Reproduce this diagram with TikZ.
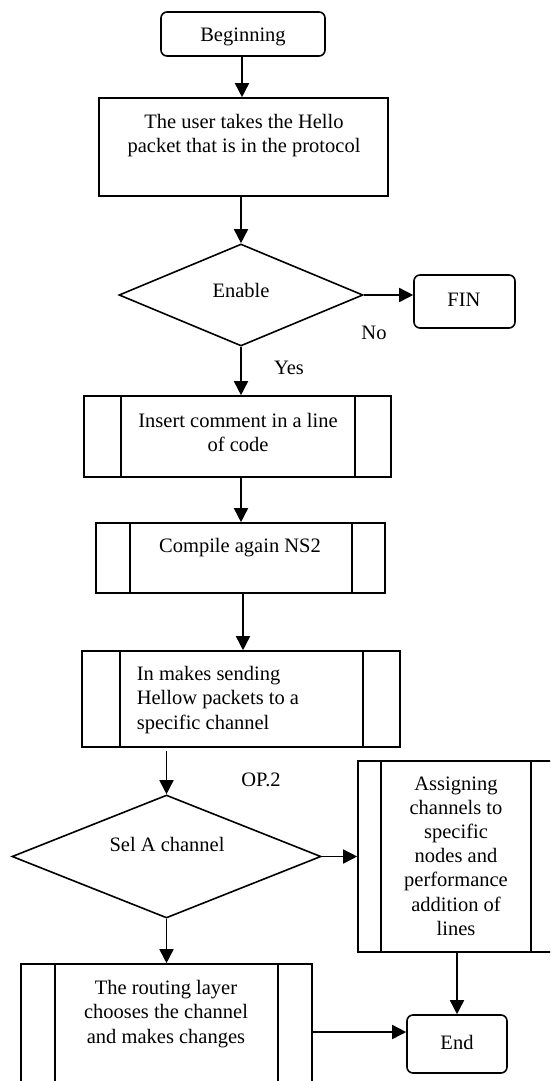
\documentclass[tikz,border=0pt]{standalone}
\usepackage{fontspec}
\setmainfont{Liberation Serif}
\usetikzlibrary{shapes.geometric,arrows.meta}
\begin{document}
\begin{tikzpicture}[x=1pt,y=-1pt,line width=1.6pt,
  every node/.style={font=\fontsize{20.5}{24.2}\selectfont,inner sep=0pt},
  term/.style={draw,rectangle,rounded corners=6pt},
  procbox/.style={draw,rectangle},
  dec/.style={draw,diamond},
  txt/.style={align=center},
  arr/.style={-{Triangle[length=14pt,width=14pt]}}]
\useasboundingbox (0,0) rectangle (550,1081);
\begin{scope}
\clip (0,0) rectangle (550,1081);
% boxes
\node[term,minimum width=164,minimum height=44] (beg) at (243,34) {};
\node[procbox,minimum width=289,minimum height=98] (b2) at (243.5,147) {};
\node[dec,minimum width=244,minimum height=102] (d1) at (241,295) {};
\node[term,minimum width=101,minimum height=53] (fin) at (464.5,301.5) {};
\node[procbox,minimum width=307,minimum height=81] (b3) at (237.5,436.5) {};
\node[procbox,minimum width=289,minimum height=70] (b4) at (240.5,558) {};
\node[procbox,minimum width=318,minimum height=96] (b5) at (241,699) {};
\node[dec,minimum width=309,minimum height=123] (d2) at (166.5,856.5) {};
\node[procbox,minimum width=196,minimum height=191] (b6) at (456,856.5) {};
\node[term,minimum width=100,minimum height=58] (fine) at (457,1044) {};
\node[procbox,minimum width=291,minimum height=136] (b7) at (166.5,1032) {};
% inner lines of predefined processes
\draw ([xshift=38pt]b3.north west) -- ([xshift=38pt]b3.south west);
\draw ([xshift=-37pt]b3.north east) -- ([xshift=-37pt]b3.south east);
\draw ([xshift=35pt]b4.north west) -- ([xshift=35pt]b4.south west);
\draw ([xshift=-34pt]b4.north east) -- ([xshift=-34pt]b4.south east);
\draw ([xshift=39pt]b5.north west) -- ([xshift=39pt]b5.south west);
\draw ([xshift=-38pt]b5.north east) -- ([xshift=-38pt]b5.south east);
\draw ([xshift=24pt]b6.north west) -- ([xshift=24pt]b6.south west);
\draw ([xshift=-24pt]b6.north east) -- ([xshift=-24pt]b6.south east);
\draw ([xshift=35pt]b7.north west) -- ([xshift=35pt]b7.south west);
\draw ([xshift=-35pt]b7.north east) -- ([xshift=-35pt]b7.south east);
% texts
\node[txt] (tbeg) at (243,37) {Beginning};
\node[txt] (tb2) at (244,135.5) {The user takes the Hello\\packet that is in the protocol};
\node[txt] (td1) at (241,290) {Enable};
\node[txt] (tfin) at (464,300) {FIN};
\node (tno) at (374,333) {No};
\node (tyes) at (289,368) {Yes};
\node[txt] (tb3) at (238,432.5) {Insert comment in a line\\of code};
\node[txt] (tb4) at (240,548) {Compile again NS2};
\node[align=left,anchor=west] (tb5) at (136,700) {In makes sending\\Hellow packets to a\\specific channel};
\node (top2) at (261,780) {OP.2};
\node[txt] (td2) at (167,844) {Sel A channel};
\node[txt] (tb6) at (456,856) {Assigning\\channels to\\specific\\nodes and\\performance\\addition of\\lines};
\node[txt] (tend) at (457,1042) {End};
\node[txt] (tb7) at (166,1014) {The routing layer\\chooses the channel\\and makes changes};
% connectors
\draw[arr] (beg.south -| 242,0) -- (b2.north -| 242,0);
\draw[arr] (b2.south -| d1.north) -- (d1.north);
\draw[arr] (d1.east) -- (d1.east -| fin.west);
\draw[arr] (d1.south) -- (d1.south |- b3.north);
\draw[arr] (b3.south -| 241,0) -- (b4.north -| 241,0);
\draw[arr] (b4.south -| 243,0) -- (b5.north -| 243,0);
\coordinate (b5out) at ([yshift=-3pt]b5.south -| d2.north);
\draw[arr] (b5out) -- (d2.north);
\draw[arr] (d2.east) -- (d2.east -| b6.west);
\draw[arr] (d2.south) -- (d2.south |- b7.north);
\draw[arr] (b6.south -| fine.north) -- (fine.north);
\draw[arr] (b7.east) -- (b7.east -| fine.west);
\end{scope}
\end{tikzpicture}
\end{document}
